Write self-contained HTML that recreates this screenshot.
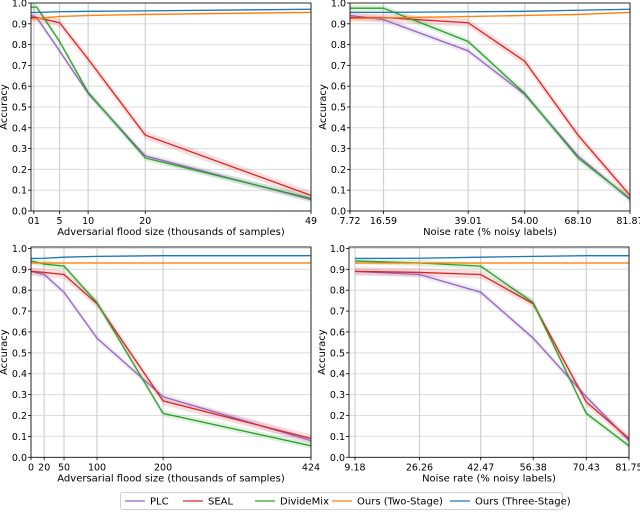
<!DOCTYPE html>
<html><head><meta charset="utf-8">
<style>
body{margin:0;background:#fff;width:640px;height:510px;overflow:hidden;font-family:"Liberation Sans","DejaVu Sans",sans-serif;}
svg text{font-family:"DejaVu Sans","Liberation Sans",sans-serif;}
</style></head>
<body>
<svg id="fig" width="640" height="510" viewBox="0 0 640 510" xmlns="http://www.w3.org/2000/svg"></svg>
<script>
// ---- data ----
const seriesNames = ["PLC","SEAL","DivideMix","Ours (Two-Stage)","Ours (Three-Stage)"];
const seriesColors = ["#9467bd","#d62728","#2ca02c","#ff7f0e","#1f77b4"];
const bandWidths = [0.015,0.02,0.015,0.005,0.003];

const tlX = [0,1,5,10,20,49];
const tlTicks = ["01","5","10","20","49"];
const tlPLC = [0.94,0.93,0.77,0.565,0.265,0.055];
const tlSEAL = [0.93,0.93,0.905,0.73,0.365,0.075];
const tlDM = [0.98,0.98,0.815,0.57,0.255,0.06];
const tlTwo = [0.925,0.925,0.935,0.94,0.945,0.955];
const tlThree = [0.955,0.955,0.958,0.96,0.962,0.97];

const trX = [7.72,16.59,39.01,54.00,68.10,81.87];
const trTicks = ["7.72","16.59","39.01","54.00","68.10","81.87"];
const trPLC = [0.94,0.92,0.77,0.56,0.265,0.055];
const trSEAL = [0.93,0.93,0.905,0.72,0.365,0.075];
const trDM = [0.975,0.975,0.815,0.565,0.255,0.06];
const trTwo = [0.925,0.928,0.935,0.94,0.945,0.955];
const trThree = [0.955,0.955,0.958,0.96,0.965,0.97];

const blX = [0,20,50,100,200,424];
const blTicks = ["0","20","50","100","200","424"];
const blPLC = [0.89,0.875,0.79,0.57,0.29,0.08];
const blSEAL = [0.89,0.885,0.875,0.735,0.27,0.09];
const blDM = [0.94,0.925,0.915,0.74,0.21,0.055];
const blTwo = [0.93,0.93,0.93,0.93,0.93,0.93];
const blThree = [0.952,0.953,0.958,0.962,0.965,0.965];

const brX = [9.18,26.26,42.47,56.38,70.43,81.75];
const brTicks = ["9.18","26.26","42.47","56.38","70.43","81.75"];
const brPLC = [0.89,0.875,0.79,0.57,0.29,0.08];
const brSEAL = [0.89,0.885,0.875,0.735,0.265,0.09];
const brDM = [0.94,0.93,0.915,0.74,0.21,0.055];
const brTwo = [0.93,0.93,0.93,0.93,0.93,0.93];
const brThree = [0.952,0.953,0.958,0.962,0.965,0.965];

const yTicks = [0.0,0.1,0.2,0.3,0.4,0.5,0.6,0.7,0.8,0.9,1.0];

const NS="http://www.w3.org/2000/svg";
const svg=document.getElementById('fig');
function el(tag,attrs,parent){const e=document.createElementNS(NS,tag);for(const k in attrs)e.setAttribute(k,attrs[k]);(parent||svg).appendChild(e);return e;}

function panel(name,box,xd,xs,tickVals,tickLabels,ys,xTitle){
  const g=el('g',{});
  
  
  const xf=v=>box.x0+(v-xd[0])/(xd[1]-xd[0])*(box.x1-box.x0);
  const yf=v=>box.y0+(v)*(box.y1-box.y0);
  yTicks.forEach(t=>{
    const l=el('line',{x1:box.x0,x2:box.x1,y1:yf(t),y2:yf(t),stroke:'#dcdcdc','stroke-width':1},g);
    
    
  });
  tickVals.forEach(t=>{
    const l=el('line',{x1:xf(t),x2:xf(t),y1:box.top,y2:box.y0,stroke:'#d0d0d0','stroke-width':1.2},g);
    
    
  });
  ys.forEach((arr,i)=>{
    const up=xs.map((x,j)=>xf(x)+','+yf(arr[j]+bandWidths[i]));
    const dn=xs.map((x,j)=>xf(x)+','+yf(arr[j]-bandWidths[i])).reverse();
    const b=el('polygon',{points:up.concat(dn).join(' '),fill:seriesColors[i],'fill-opacity':0.15,stroke:'none'},g);
    
    
  });
  ys.forEach((arr,i)=>{
    const p=el('polyline',{points:xs.map((x,j)=>xf(x)+','+yf(arr[j])).join(' '),fill:'none',stroke:seriesColors[i],'stroke-width':1.3},g);
    
    
  });
  const f=el('rect',{x:box.x0,y:box.top,width:box.x1-box.x0,height:box.y0-box.top,fill:'none',stroke:'#000','stroke-width':0.8},g);
  
  
  yTicks.forEach(t=>{
    el('line',{x1:box.x0-3,x2:box.x0,y1:yf(t),y2:yf(t),stroke:'#000','stroke-width':0.8},g);
    const tx=el('text',{x:box.x0-4,y:yf(t)+3.5,'font-size':9.5,'text-anchor':'end',fill:'#000'},g);
    tx.textContent=t.toFixed(1);
    
    
  });
  tickVals.forEach((t,i)=>{
    el('line',{x1:xf(t),x2:xf(t),y1:box.y0,y2:box.y0+3,stroke:'#000','stroke-width':0.8},g);
    const tx=el('text',{x:xf(t),y:box.y0+13,'font-size':9.5,'text-anchor':'middle',fill:'#000'},g);
    tx.textContent=tickLabels[i];
    
    
  });
  const xt=el('text',{x:(box.x0+box.x1)/2,y:box.y0+24,'font-size':10,'text-anchor':'middle',fill:'#000'},g);
  xt.textContent=xTitle;
  
  
  const yc=(box.top+box.y0)/2;
  const yt=el('text',{x:box.x0-24,y:yc,'font-size':10,'text-anchor':'middle',fill:'#000',transform:'rotate(-90 '+(box.x0-24)+' '+yc+')'},g);
  yt.textContent='Accuracy';
  
  
}

panel('panel-top-left',{x0:31,x1:311,y0:211,y1:3,top:3},[0,49],tlX,[0.5,5,10,20,49],tlTicks,[tlPLC,tlSEAL,tlDM,tlTwo,tlThree],'Adversarial flood size (thousands of samples)');
panel('panel-top-right',{x0:350,x1:630,y0:211,y1:3,top:3},[7.72,81.87],trX,trX,trTicks,[trPLC,trSEAL,trDM,trTwo,trThree],'Noise rate (% noisy labels)');
panel('panel-bottom-left',{x0:31,x1:311,y0:457.3,y1:248.4,top:247},[0,424],blX,blX,blTicks,[blPLC,blSEAL,blDM,blTwo,blThree],'Adversarial flood size (thousands of samples)');
panel('panel-bottom-right',{x0:349,x1:629,y0:457.3,y1:248.4,top:247},[7.59,81.75],brX,brX,brTicks,[brPLC,brSEAL,brDM,brTwo,brThree],'Noise rate (% noisy labels)');

const lg=el('g',{});


const lr=el('rect',{x:120.5,y:492.5,width:442,height:17,fill:'#fff',stroke:'#d0d0d0','stroke-width':1,rx:2},lg);


const legX=[125,183,255,332,450];
seriesNames.forEach((n,i)=>{
  const e=el('g',{},lg);
  
  
  el('line',{x1:legX[i],x2:legX[i]+20,y1:501,y2:501,stroke:seriesColors[i],'stroke-width':1.3},e);
  const t=el('text',{x:legX[i]+25,y:504.5,'font-size':10,fill:'#000'},e);
  t.textContent=n;
});
</script>
</body></html>
